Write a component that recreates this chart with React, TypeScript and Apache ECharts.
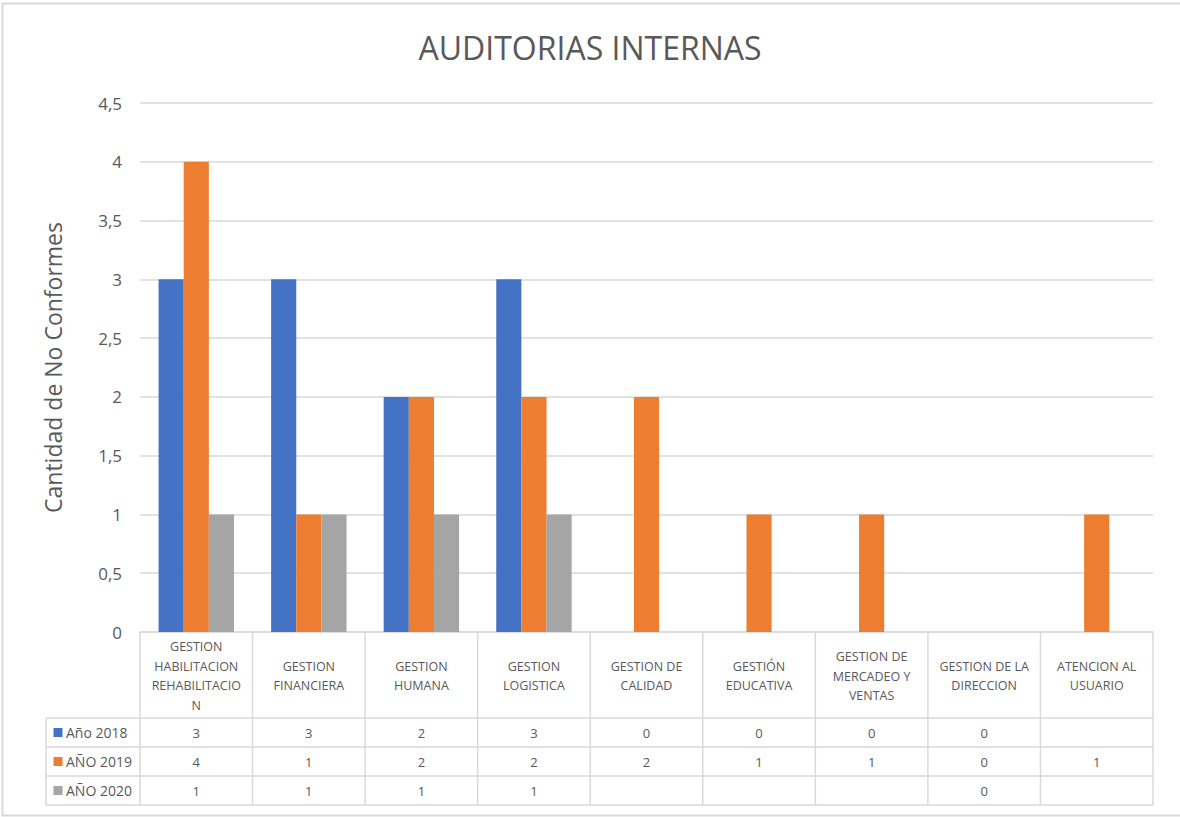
import React, { useEffect, useRef } from "react";
import * as echarts from "echarts";

const categories = [
  "GESTION\nHABILITACION\nREHABILITACIO\nN",
  "GESTION\nFINANCIERA",
  "GESTION\nHUMANA",
  "GESTION\nLOGISTICA",
  "GESTION DE\nCALIDAD",
  "GESTIÓN\nEDUCATIVA",
  "GESTION DE\nMERCADEO Y\nVENTAS",
  "GESTION DE LA\nDIRECCION",
  "ATENCION AL\nUSUARIO",
];
const seriesNames = ["Año 2018", "AÑO 2019", "AÑO 2020"];
const values2018: (number | null)[] = [3, 3, 2, 3, 0, 0, 0, 0, null];
const values2019: (number | null)[] = [4, 1, 2, 2, 2, 1, 1, 0, 1];
const values2020: (number | null)[] = [1, 1, 1, 1, null, null, null, 0, null];
const seriesColors = ["#4472C4", "#ED7D31", "#A5A5A5"];
const title = "AUDITORIAS INTERNAS";
const yAxisName = "Cantidad de No Conformes";
const yMin = 0;
const yMax = 4.5;
const yInterval = 0.5;

const W = 1180;
const H = 817;
const FONT = "'Open Sans', sans-serif";
const TEXT = "#595959";
const BORDER = "#d9d9d9";

export default function App() {
  const ref = useRef<HTMLDivElement>(null);
  useEffect(() => {
    if (!ref.current) return;
    const chart = echarts.init(ref.current, undefined, { renderer: "svg", width: W, height: H });
    const allValues = [values2018, values2019, values2020];

    const plotLeft = 140;
    const plotRight = 1153;
    const plotTop = 103;
    const plotBottom = 632;
    const cw = (plotRight - plotLeft) / categories.length;
    const headerBottom = 718;
    const rowH = 29;
    const tableLeft = 46;
    const tableBottom = headerBottom + rowH * seriesNames.length;

    const graphics: any[] = [];
    graphics.push({
      type: "rect",
      shape: { x: 2.5, y: 3.5, width: W + 10, height: H - 5 },
      style: { fill: "none", stroke: BORDER, lineWidth: 2 },
      silent: true,
    });
    for (let r = 0; r <= seriesNames.length; r++) {
      const y = headerBottom + r * rowH;
      graphics.push({
        type: "line",
        shape: { x1: tableLeft, y1: y, x2: plotRight, y2: y },
        style: { stroke: BORDER, lineWidth: 1.5 },
        silent: true,
      });
    }
    graphics.push({
      type: "line",
      shape: { x1: tableLeft, y1: headerBottom, x2: tableLeft, y2: tableBottom },
      style: { stroke: BORDER, lineWidth: 1.5 },
      silent: true,
    });
    for (let i = 0; i <= categories.length; i++) {
      const x = plotLeft + i * cw;
      graphics.push({
        type: "line",
        shape: { x1: x, y1: plotBottom, x2: x, y2: tableBottom },
        style: { stroke: BORDER, lineWidth: 1.5 },
        silent: true,
      });
    }
    categories.forEach((c, i) => {
      graphics.push({
        type: "text",
        x: plotLeft + (i + 0.5) * cw,
        y: (plotBottom + headerBottom) / 2 + 1,
        style: {
          text: c,
          fill: TEXT,
          font: `12.5px ${FONT}`,
          align: "center",
          verticalAlign: "middle",
          lineHeight: 19.5,
        },
        silent: true,
      });
    });
    seriesNames.forEach((s, r) => {
      const cy = headerBottom + (r + 0.5) * rowH;
      graphics.push({
        type: "rect",
        shape: { x: 53.5, y: cy - 4.5, width: 9, height: 9 },
        style: { fill: seriesColors[r] },
        silent: true,
      });
      graphics.push({
        type: "text",
        x: 66,
        y: cy,
        style: { text: s, fill: TEXT, font: `14px ${FONT}`, align: "left", verticalAlign: "middle" },
        silent: true,
      });
      allValues[r].forEach((v, i) => {
        if (v === null || v === undefined) return;
        graphics.push({
          type: "text",
          x: plotLeft + (i + 0.5) * cw,
          y: cy,
          style: { text: String(v), fill: TEXT, font: `13px ${FONT}`, align: "center", verticalAlign: "middle" },
          silent: true,
        });
      });
    });

    chart.setOption({
      animation: false,
      backgroundColor: "#ffffff",
      title: {
        text: title,
        left: "center",
        top: 26,
        textStyle: { fontFamily: FONT, fontSize: 32, fontWeight: "normal", color: TEXT },
      },
      grid: { left: plotLeft, right: W - plotRight, top: plotTop, bottom: H - plotBottom, containLabel: false },
      xAxis: {
        type: "category",
        data: categories,
        axisLine: { show: true, lineStyle: { color: BORDER, width: 1.5 } },
        axisTick: { show: false },
        axisLabel: { show: false },
      },
      yAxis: {
        type: "value",
        min: yMin,
        max: yMax,
        interval: yInterval,
        name: yAxisName,
        nameLocation: "middle",
        nameGap: 76,
        nameTextStyle: { fontFamily: FONT, fontSize: 23, color: TEXT },
        axisLine: { show: false },
        axisTick: { show: false },
        axisLabel: {
          fontFamily: FONT,
          fontSize: 17,
          color: TEXT,
          margin: 18,
          formatter: (v: number) => String(v).replace(".", ","),
        },
        splitLine: { lineStyle: { color: BORDER, width: 1.5 } },
      },
      series: seriesNames.map((name, k) => ({
        name,
        type: "bar",
        data: allValues[k],
        itemStyle: { color: seriesColors[k] },
        barGap: "0%",
        barCategoryGap: "33%",
      })),
      graphic: graphics,
    });
    return () => chart.dispose();
  }, []);
  return (
    <div
      ref={ref}
      style={{ position: "fixed", left: 0, top: 0, width: W, height: H, background: "#fff" }}
    />
  );
}
